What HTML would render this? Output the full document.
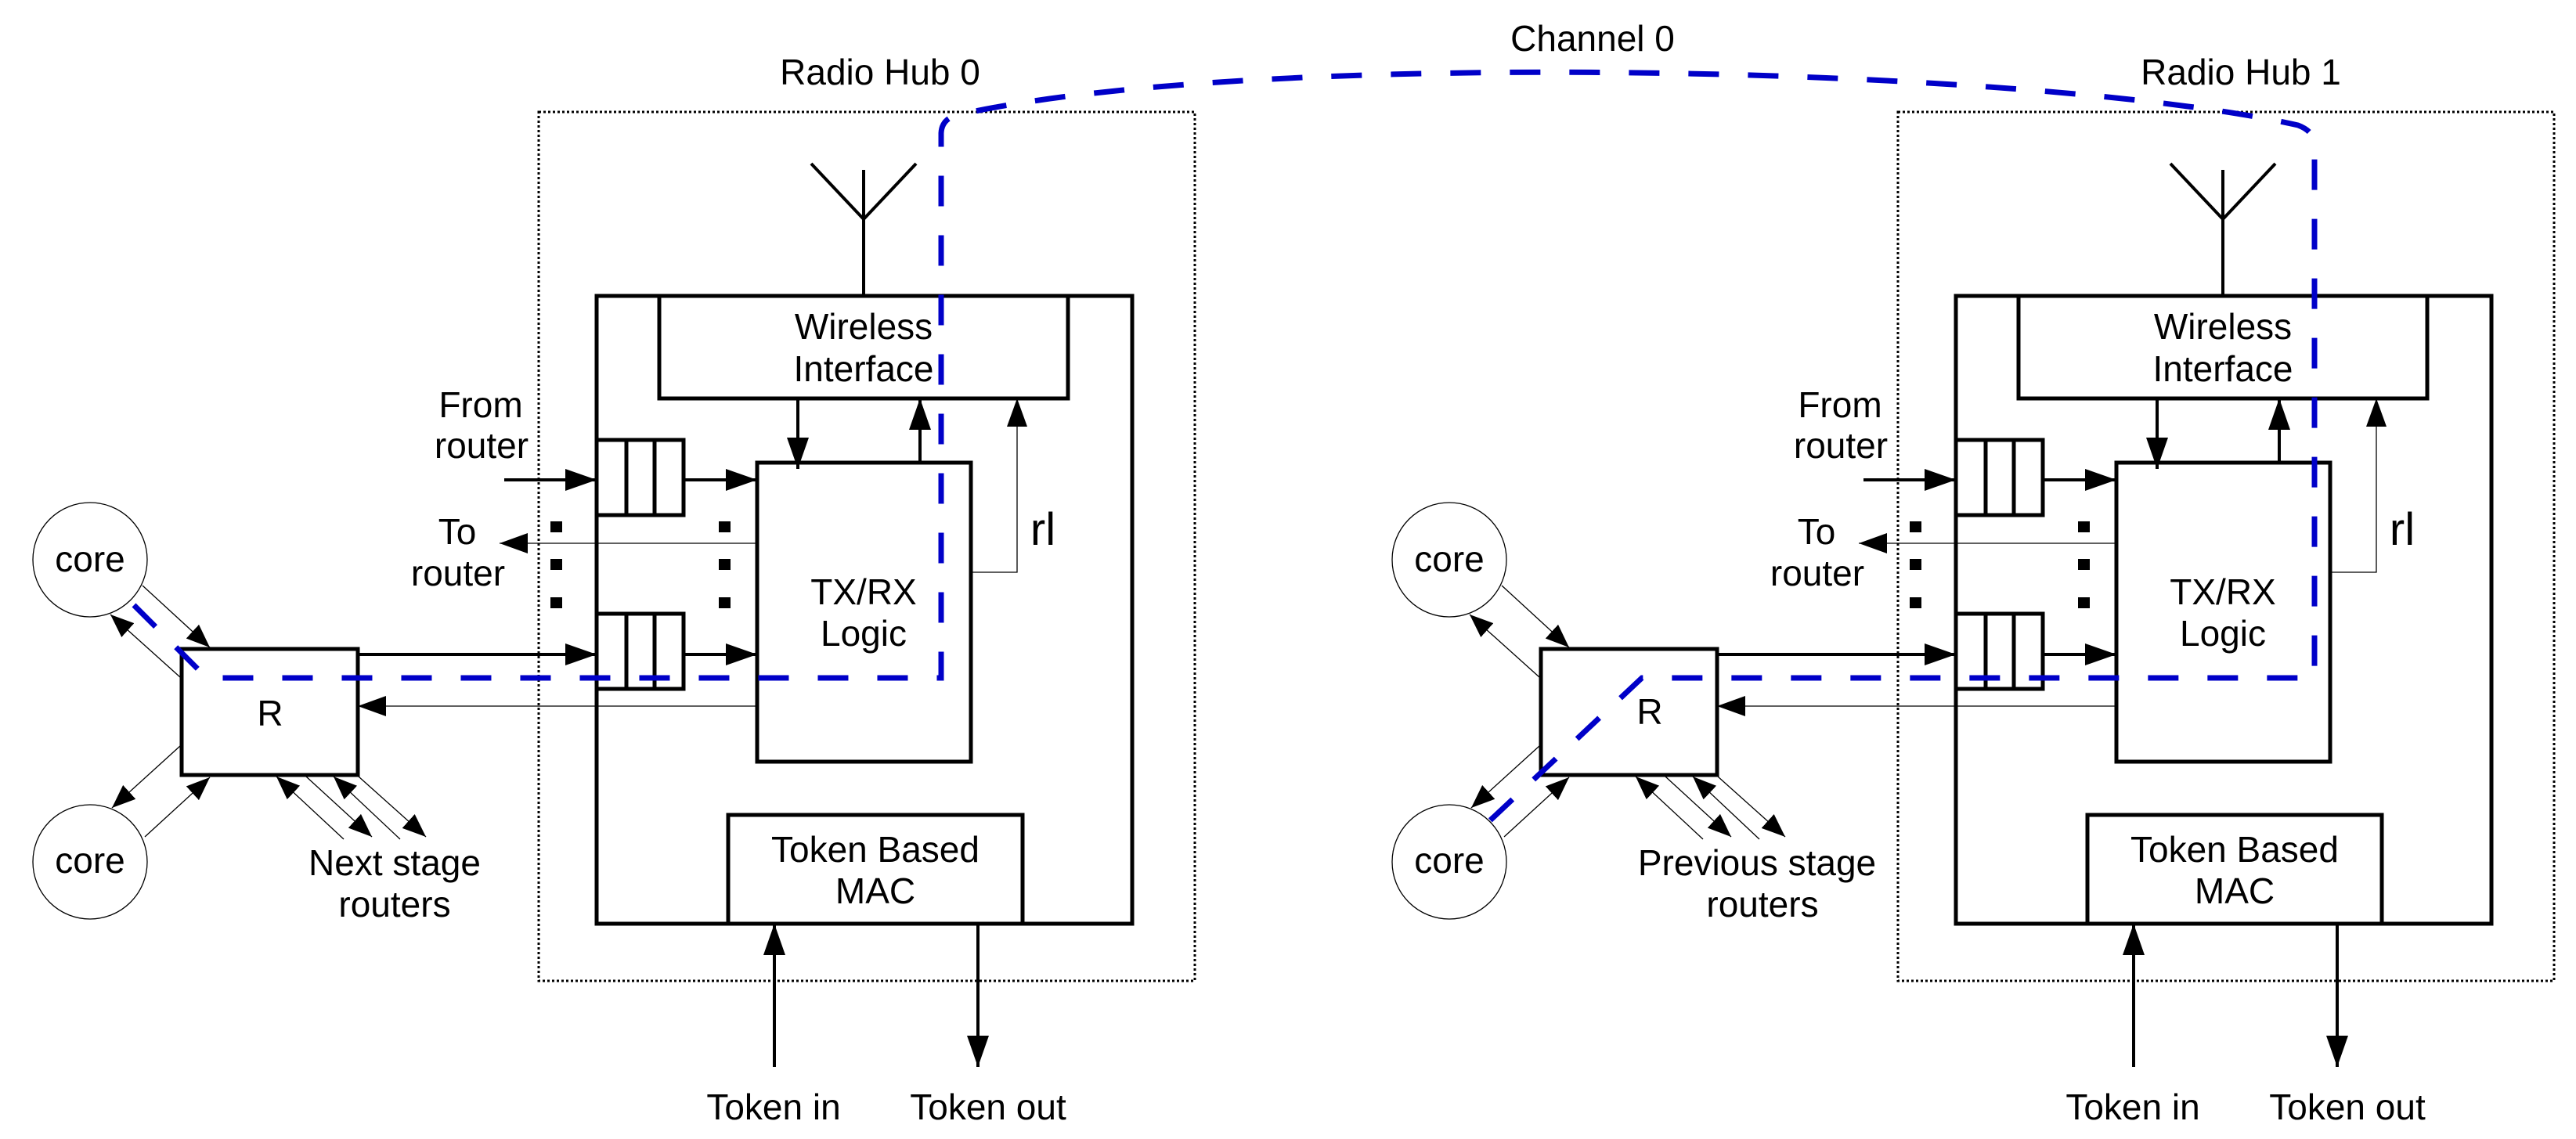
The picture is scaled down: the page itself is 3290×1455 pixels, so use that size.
<!DOCTYPE html>
<html><head><meta charset="utf-8"><style>
html,body{margin:0;padding:0;background:#fff;}
svg{display:block;}
text{font-family:"Liberation Sans",Arial,sans-serif;font-size:46px;fill:#000;text-anchor:middle;}
</style></head><body>
<svg width="3290" height="1455" viewBox="0 0 3290 1455" xmlns="http://www.w3.org/2000/svg">
<defs>
<marker id="A" markerUnits="userSpaceOnUse" markerWidth="40" markerHeight="28" refX="40" refY="14" orient="auto"><path d="M0,0 L40,14 L0,28 z" fill="#000"/></marker>
<marker id="T" markerUnits="userSpaceOnUse" markerWidth="36" markerHeight="26" refX="36" refY="13" orient="auto"><path d="M0,0 L36,13 L0,26 z" fill="#000"/></marker>
<marker id="S" markerUnits="userSpaceOnUse" markerWidth="30" markerHeight="24" refX="30" refY="12" orient="auto"><path d="M0,0 L30,12 L0,24 z" fill="#000"/></marker>
</defs>

<!-- HUB 0 -->
<g id="hub0">
<rect x="688" y="143" width="838" height="1110" fill="none" stroke="#000" stroke-width="3" stroke-dasharray="3 3"/>
<line x1="1103" y1="217" x2="1103" y2="378" stroke="#000" stroke-width="4"/>
<polyline points="1036,209 1103,280 1170,209" fill="none" stroke="#000" stroke-width="4"/>
<rect x="762" y="378" width="684" height="802" fill="none" stroke="#000" stroke-width="5"/>
<rect x="842" y="378" width="522" height="131" fill="#fff" stroke="#000" stroke-width="5"/>
<rect x="967" y="591" width="273" height="382" fill="none" stroke="#000" stroke-width="5"/>
<rect x="930" y="1041" width="376" height="139" fill="#fff" stroke="#000" stroke-width="5"/>
<rect x="762" y="562" width="111" height="96" fill="none" stroke="#000" stroke-width="5"/>
<line x1="800" y1="562" x2="800" y2="658" stroke="#000" stroke-width="5"/>
<line x1="836" y1="562" x2="836" y2="658" stroke="#000" stroke-width="5"/>
<rect x="762" y="784" width="111" height="96" fill="none" stroke="#000" stroke-width="5"/>
<line x1="800" y1="784" x2="800" y2="880" stroke="#000" stroke-width="5"/>
<line x1="836" y1="784" x2="836" y2="880" stroke="#000" stroke-width="5"/>
<g stroke="#000" stroke-width="4" fill="none">
<line x1="644" y1="613" x2="762" y2="613" marker-end="url(#A)"/>
<line x1="873" y1="613" x2="967" y2="613" marker-end="url(#A)"/>
<line x1="873" y1="836" x2="967" y2="836" marker-end="url(#A)"/>
<line x1="457" y1="836" x2="762" y2="836" marker-end="url(#A)"/>
<line x1="1019" y1="509" x2="1019" y2="599" marker-end="url(#A)"/>
<line x1="1175" y1="591" x2="1175" y2="509" marker-end="url(#A)"/>
<line x1="989" y1="1363" x2="989" y2="1180" marker-end="url(#A)"/>
<line x1="1249" y1="1180" x2="1249" y2="1363" marker-end="url(#A)"/>
</g>
<g stroke="#000" stroke-width="1.3" fill="none">
<line x1="967" y1="694" x2="638" y2="694" marker-end="url(#T)"/>
<line x1="967" y1="902" x2="457" y2="902" marker-end="url(#T)"/>
<polyline points="1240,731 1299,731 1299,509" marker-end="url(#T)"/>
<line x1="182" y1="748" x2="268" y2="827" marker-end="url(#S)"/>
<line x1="230" y1="865" x2="141" y2="785" marker-end="url(#S)"/>
<line x1="230" y1="953" x2="143" y2="1032" marker-end="url(#S)"/>
<line x1="185" y1="1069" x2="268" y2="993" marker-end="url(#S)"/>
<line x1="439" y1="1072" x2="353" y2="992" marker-end="url(#S)"/>
<line x1="391" y1="992" x2="475" y2="1069" marker-end="url(#S)"/>
<line x1="511" y1="1072" x2="426" y2="992" marker-end="url(#S)"/>
<line x1="458" y1="992" x2="544" y2="1069" marker-end="url(#S)"/>
</g>
<g fill="#000">
<rect x="703" y="666" width="15" height="14"/><rect x="703" y="714" width="15" height="14"/><rect x="703" y="763" width="15" height="14"/>
<rect x="918" y="666" width="15" height="14"/><rect x="918" y="714" width="15" height="14"/><rect x="918" y="763" width="15" height="14"/>
</g>
<rect x="232" y="829" width="225" height="161" fill="none" stroke="#000" stroke-width="5"/>
<circle cx="115" cy="715" r="73" fill="none" stroke="#000" stroke-width="1.3"/>
<circle cx="115" cy="1101" r="73" fill="none" stroke="#000" stroke-width="1.3"/>
<text x="115" y="730">core</text>
<text x="115" y="1115">core</text>
<text x="1103" y="433">Wireless</text>
<text x="1103" y="487">Interface</text>
<text x="1103" y="772">TX/RX</text>
<text x="1103" y="825">Logic</text>
<text x="1332" y="696" style="font-size:58px">rl</text>
<text x="614" y="533">From</text>
<text x="615" y="585">router</text>
<text x="584" y="695">To</text>
<text x="585" y="748">router</text>
<text x="1118" y="1101">Token Based</text>
<text x="1118" y="1154">MAC</text>
<text x="988" y="1430">Token in</text>
<text x="1262" y="1430">Token out</text>
</g>
<text x="345" y="927">R</text>
<text x="504" y="1118">Next stage</text>
<text x="504" y="1171">routers</text>
<text x="1124" y="108">Radio Hub 0</text>

<!-- HUB 1 -->
<use href="#hub0" transform="translate(1736,0)"/>
<text x="2107" y="925">R</text>
<text x="2244" y="1118">Previous stage</text>
<text x="2251" y="1171">routers</text>
<text x="2862" y="108">Radio Hub 1</text>
<text x="2034" y="65">Channel 0</text>

<!-- blue channel path -->
<path d="M171,773 L264,866 L1202,866 L1202,170 Q1203,150 1227,146 C1600,62 2600,84 2935,160 Q2956,168 2956,185 L2956,866 L2097,866 L1901,1050"
 fill="none" stroke="#0000C8" stroke-width="7" stroke-dasharray="39 37"/>
</svg>
</body></html>
